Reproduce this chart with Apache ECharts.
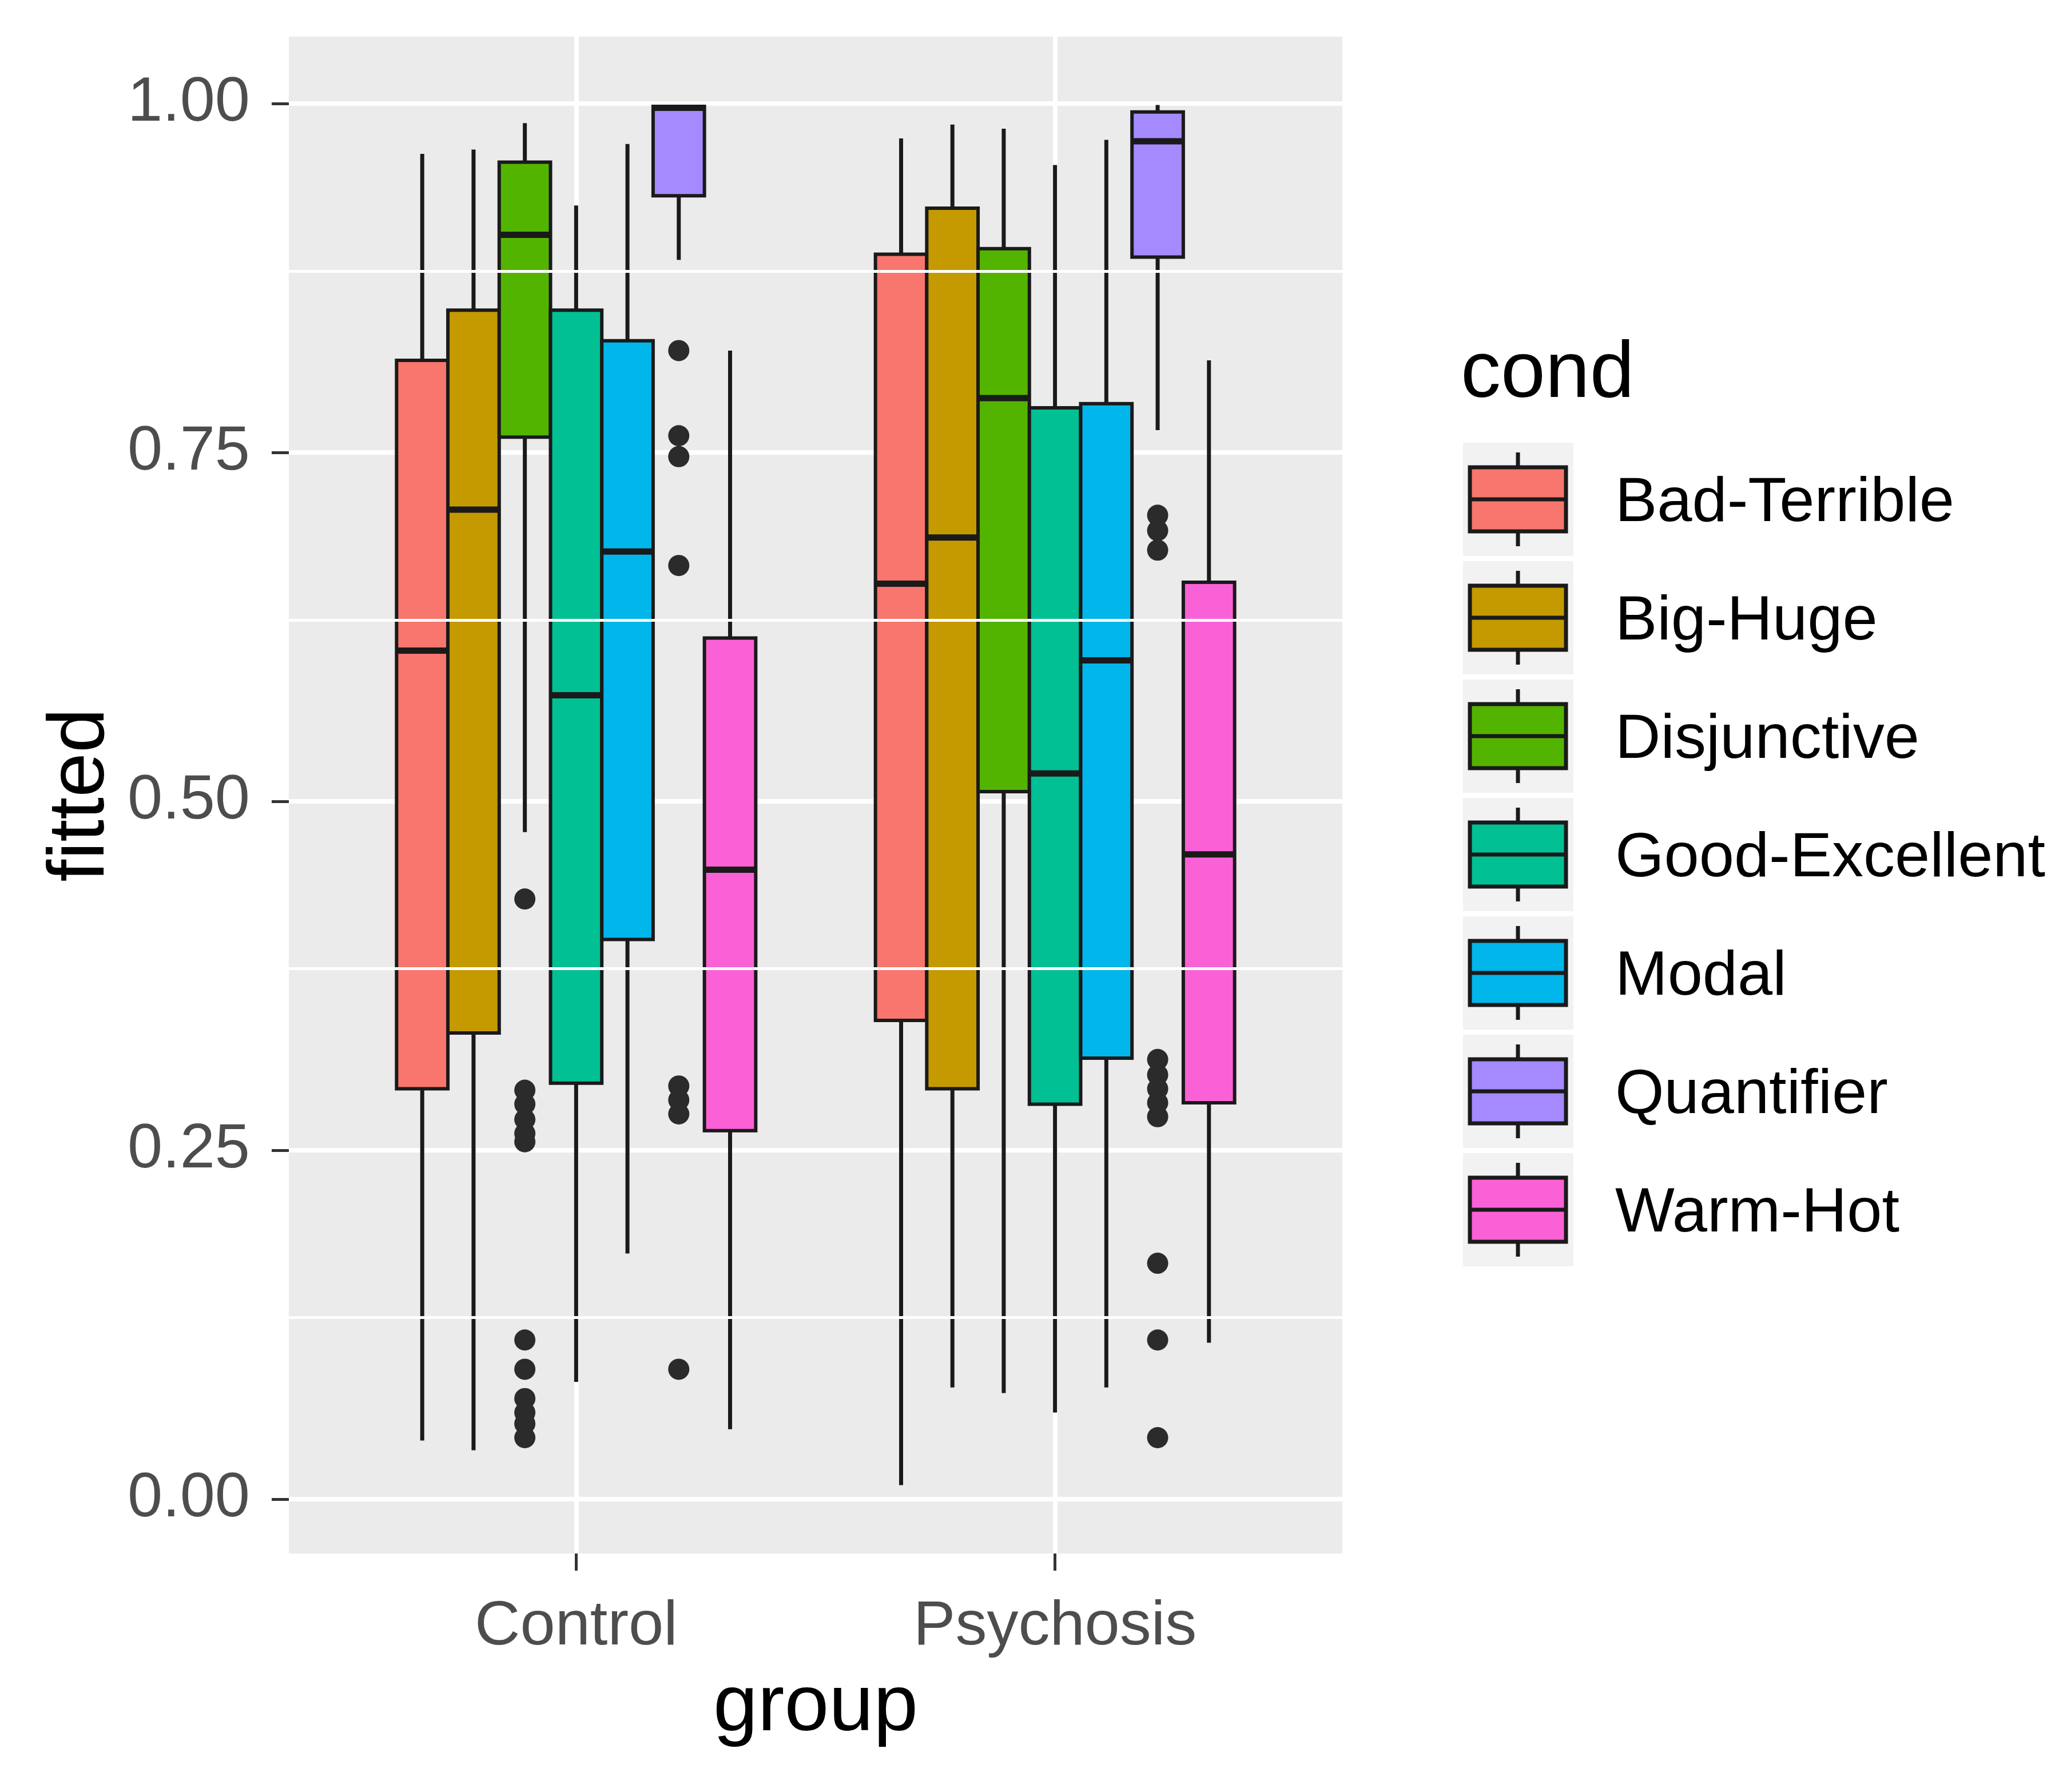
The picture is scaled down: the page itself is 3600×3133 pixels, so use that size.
<!DOCTYPE html>
<html>
<head>
<meta charset="utf-8">
<title>fitted by group and cond</title>
<script src="https://cdn.jsdelivr.net/npm/echarts@6/dist/echarts.min.js"></script>
<style>
  html, body { margin: 0; padding: 0; background: #ffffff; }
  #main { width: 3600px; height: 3133px; }
</style>
</head>
<body>
<div id="main"></div>
<script>
// groups on the x axis, conditions dodged inside each group
var groups = ['Control', 'Psychosis'];
var conds = ['Bad-Terrible', 'Big-Huge', 'Disjunctive', 'Good-Excellent', 'Modal', 'Quantifier', 'Warm-Hot'];
var colors = ['#F8766D', '#C49A00', '#53B400', '#00C094', '#00B6EB', '#A58AFF', '#FB61D7'];

// [lower whisker, Q1, median, Q3, upper whisker], one row per cond
var controlStats = [
  [0.042, 0.294, 0.608, 0.816, 0.964],
  [0.035, 0.334, 0.709, 0.852, 0.967],
  [0.478, 0.761, 0.906, 0.958, 0.986],
  [0.084, 0.298, 0.576, 0.852, 0.927],
  [0.176, 0.401, 0.679, 0.830, 0.971],
  [0.888, 0.934, 0.997, 0.998, 0.999],
  [0.050, 0.264, 0.451, 0.617, 0.823]
];
var psychosisStats = [
  [0.010, 0.343, 0.656, 0.892, 0.975],
  [0.080, 0.294, 0.689, 0.925, 0.985],
  [0.076, 0.507, 0.789, 0.896, 0.982],
  [0.062, 0.283, 0.520, 0.782, 0.956],
  [0.080, 0.316, 0.601, 0.785, 0.974],
  [0.766, 0.890, 0.973, 0.994, 0.999],
  [0.112, 0.284, 0.462, 0.657, 0.816]
];

// outliers, one list per cond (empty when none)
var controlOutliers = [
  [], [],
  [0.430, 0.293, 0.283, 0.272, 0.262, 0.256, 0.114, 0.093, 0.072, 0.062, 0.054, 0.044],
  [], [],
  [0.823, 0.762, 0.747, 0.669, 0.296, 0.286, 0.276, 0.093],
  []
];
var psychosisOutliers = [
  [], [], [], [], [],
  [0.705, 0.694, 0.680, 0.315, 0.304, 0.294, 0.284, 0.274, 0.169, 0.114, 0.044],
  []
];

var yTicks = [0, 0.25, 0.5, 0.75, 1];
var yMinor = [0.125, 0.375, 0.625, 0.875];

var stats = [controlStats, psychosisStats];
var outliers = [controlOutliers, psychosisOutliers];

// dodge: 7 boxes share 0.75 of a group slot
var dodgeWidth = 0.75;
var boxWidth = dodgeWidth / conds.length;
function dodgeX(g, k) {
  return g + 1 + (k - (conds.length - 1) / 2) * boxWidth;
}

var ink = '#1A1A1A';
var fontFamily = '"Liberation Sans", Arial, sans-serif';

function renderBox(params, api) {
  var x = api.value(0);
  var half = api.size([boxWidth, 0])[0] / 2;
  var lo = api.coord([x, api.value(1)]);
  var q1 = api.coord([x, api.value(2)]);
  var med = api.coord([x, api.value(3)]);
  var q3 = api.coord([x, api.value(4)]);
  var hi = api.coord([x, api.value(5)]);
  var color = api.visual('color');
  return {
    type: 'group',
    children: [
      { type: 'line', shape: { x1: lo[0], y1: lo[1], x2: q1[0], y2: q1[1] }, style: { stroke: ink, lineWidth: 7 } },
      { type: 'line', shape: { x1: q3[0], y1: q3[1], x2: hi[0], y2: hi[1] }, style: { stroke: ink, lineWidth: 7 } },
      { type: 'rect', shape: { x: q3[0] - half, y: q3[1], width: half * 2, height: q1[1] - q3[1] },
        style: { fill: color, stroke: ink, lineWidth: 6 } },
      { type: 'line', shape: { x1: med[0] - half, y1: med[1], x2: med[0] + half, y2: med[1] },
        style: { stroke: ink, lineWidth: 11 } }
    ]
  };
}

var series = [];

// minor horizontal grid lines
series.push({
  type: 'scatter',
  data: [],
  z: 1,
  silent: true,
  markLine: {
    silent: true,
    symbol: 'none',
    label: { show: false },
    lineStyle: { color: '#ffffff', width: 5, type: 'solid' },
    data: yMinor.map(function (v) { return { yAxis: v }; })
  }
});

conds.forEach(function (name, k) {
  var boxData = [];
  var pointData = [];
  groups.forEach(function (grp, g) {
    var s = stats[g][k];
    boxData.push([dodgeX(g, k), s[0], s[1], s[2], s[3], s[4]]);
    outliers[g][k].forEach(function (v) {
      pointData.push([dodgeX(g, k), v]);
    });
  });
  series.push({
    name: name,
    type: 'custom',
    z: 2,
    itemStyle: { color: colors[k] },
    renderItem: renderBox,
    encode: { x: 0, y: [1, 2, 3, 4, 5] },
    data: boxData
  });
  series.push({
    name: name,
    type: 'scatter',
    z: 3,
    symbol: 'circle',
    symbolSize: 37,
    itemStyle: { color: '#2B2B2B', opacity: 1 },
    data: pointData
  });
});

// ggplot-style legend on the right
var legendX = 2554;
var keyTop = 873;
var keyStep = 207;
var graphics = [{
  type: 'text',
  x: legendX,
  y: 655,
  style: { text: 'cond', fontSize: 140, fontFamily: fontFamily, fill: '#000000', verticalAlign: 'middle' }
}];
conds.forEach(function (name, i) {
  var cy = keyTop + i * keyStep;
  var cx = 2654;
  graphics.push(
    { type: 'rect', shape: { x: cx - 96, y: cy - 99, width: 193, height: 198 }, style: { fill: '#F2F2F2' } },
    { type: 'line', shape: { x1: cx, y1: cy - 82, x2: cx, y2: cy + 82 }, style: { stroke: ink, lineWidth: 7 } },
    { type: 'rect', shape: { x: cx - 84, y: cy - 56, width: 168, height: 112 },
      style: { fill: colors[i], stroke: ink, lineWidth: 7 } },
    { type: 'line', shape: { x1: cx - 84, y1: cy, x2: cx + 84, y2: cy }, style: { stroke: ink, lineWidth: 7 } },
    { type: 'text', x: 2824, y: cy + 8,
      style: { text: name, fontSize: 110, fontFamily: fontFamily, fill: '#000000', verticalAlign: 'middle' } }
  );
});

var chart = echarts.init(document.getElementById('main'), null, { renderer: 'canvas' });

var option = {
  backgroundColor: '#ffffff',
  animation: false,
  textStyle: { fontFamily: fontFamily },
  grid: {
    left: 505,
    right: 1253,
    top: 64,
    bottom: 417,
    show: true,
    backgroundColor: '#EBEBEB',
    borderWidth: 0
  },
  xAxis: {
    type: 'value',
    min: 0.4,
    max: groups.length + 0.6,
    name: 'group',
    nameLocation: 'middle',
    nameGap: 200,
    nameTextStyle: { fontSize: 140, color: '#000000', fontFamily: fontFamily },
    axisLine: { show: false, onZero: false },
    axisTick: {
      show: true,
      length: 30,
      customValues: groups.map(function (g, i) { return i + 1; }),
      lineStyle: { color: '#333333', width: 5 }
    },
    axisLabel: {
      customValues: groups.map(function (g, i) { return i + 1; }),
      formatter: function (v) { return groups[Math.round(v) - 1]; },
      fontSize: 110,
      color: '#4D4D4D',
      margin: 74,
      fontFamily: fontFamily
    },
    splitLine: { show: true, lineStyle: { color: '#ffffff', width: 8 } }
  },
  yAxis: {
    type: 'value',
    min: -0.039,
    max: 1.048,
    name: 'fitted',
    nameLocation: 'middle',
    nameRotate: 90,
    nameGap: 289,
    nameTextStyle: { fontSize: 140, color: '#000000', fontFamily: fontFamily },
    axisLine: { show: false, onZero: false },
    axisTick: {
      show: true,
      length: 30,
      customValues: yTicks,
      lineStyle: { color: '#333333', width: 5 }
    },
    axisLabel: {
      customValues: yTicks,
      formatter: function (v) { return v.toFixed(2); },
      fontSize: 110,
      color: '#4D4D4D',
      margin: 68,
      fontFamily: fontFamily
    },
    splitLine: { show: true, lineStyle: { color: '#ffffff', width: 8 } }
  },
  graphic: graphics,
  series: series
};

chart.setOption(option);
</script>
</body>
</html>
